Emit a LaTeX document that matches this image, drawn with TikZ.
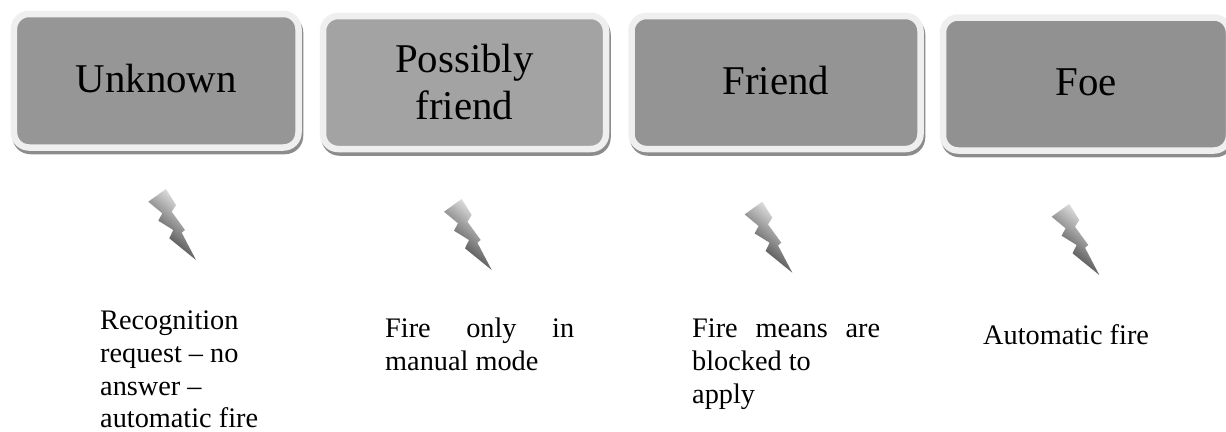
\documentclass[tikz,border=0pt]{standalone}
\usepackage{fontspec}
\setmainfont{Liberation Serif}
\usetikzlibrary{shadows}
\definecolor{ringc}{HTML}{EFEFEF}
\definecolor{shadc}{HTML}{8C8C8C}
\tikzset{
  statebox/.style={rounded corners=15bp, draw=ringc, line width=6.5bp, align=center, inner sep=0pt,
    text=black, font=\fontsize{41}{48}\selectfont,
    copy shadow={shadow xshift=1.5bp, shadow yshift=-3.5bp, draw=shadc, fill=shadc}},
  note/.style={anchor=north west, inner sep=0pt, align=left, text=black, font=\fontsize{28.4}{32.7}\selectfont},
  bolt/.pic={
    \shade[top color=black!85, bottom color=black!4, shading angle=140]
      (-30,-71) -- (-47.7,-58.3) -- (-33.7,-46.7) -- (-37.7,-39.3) -- (-22.7,-30) -- (-26.7,-21.7)
      -- (0,0) -- (-14.3,-27.3) -- (-11,-30) -- (-24.3,-48.3) -- (-20,-55) -- cycle;
  }
}
\begin{document}
\begin{tikzpicture}[x=1bp,y=-1bp]
\clip (0,0) rectangle (1226,431);
\fill[white] (0,0) rectangle (1226,431);
\node[statebox, fill=black!41, minimum width=284.5bp, minimum height=133.5bp] (unknown) at (156.25,80.75) {\raisebox{4bp}{Unknown}};
\node[statebox, fill=black!36, minimum width=283bp, minimum height=133bp] (possibly) at (464.5,82.5) {\raisebox{1.5bp}{Possibly}\\\raisebox{1.5bp}{friend}};
\node[statebox, fill=black!42, minimum width=289bp, minimum height=133bp] (friend) at (776,82.5) {\raisebox{4bp}{Friend}};
\node[statebox, fill=black!43, minimum width=286bp, minimum height=133bp] (foe) at (1086,84) {\raisebox{3.5bp}{Foe}};
\node[note] (t1) at (100,311) {Recognition\\request -- no\\answer --\\automatic fire};
\node[note] (t2) at (385,318) {\makebox[189bp][s]{Fire only in}\\manual mode};
\node[note] (t3) at (692,319) {\makebox[188bp][s]{Fire means are}\\blocked to\\apply};
\node[note] (t4) at (983,324) {Automatic fire};
\pic at (196,260) {bolt};
\pic at (491.7,270) {bolt};
\pic at (792.3,272.7) {bolt};
\pic at (1099.3,275) {bolt};
\end{tikzpicture}
\end{document}
